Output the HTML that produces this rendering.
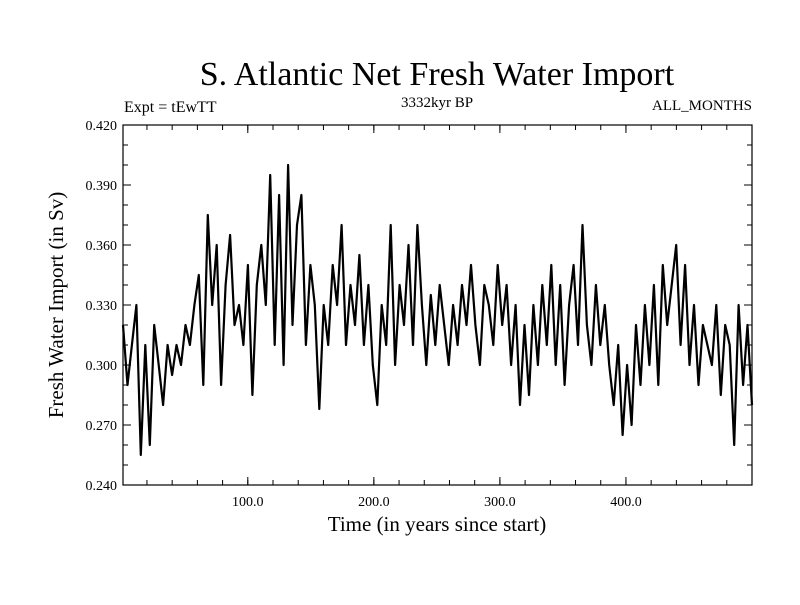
<!DOCTYPE html>
<html><head><meta charset="utf-8"><style>
body{margin:0;background:#fff}
svg text{font-family:"Liberation Serif",serif;fill:#000}
</style></head><body>
<svg width="800" height="600">
<text x="437" y="85" font-size="34" text-anchor="middle">S. Atlantic Net Fresh Water Import</text>
<text x="124" y="112" font-size="16">Expt = tEwTT</text>
<text x="437" y="107" font-size="15" text-anchor="middle">3332kyr BP</text>
<text x="752" y="110" font-size="15" text-anchor="end">ALL_MONTHS</text>
<text x="437" y="531" font-size="21" text-anchor="middle">Time (in years since start)</text>
<text x="63" y="305" font-size="21" text-anchor="middle" transform="rotate(-90 63 305)">Fresh Water Import (in Sv)</text>
<g id="axes"></g>
<path id="series" fill="none" stroke="#000" stroke-width="2.2" stroke-linejoin="round"/>
<rect x="123" y="125" width="629" height="360" fill="none" stroke="#000" stroke-width="1.2"/>
</svg>
<script>
const values=[0.32,0.29,0.31,0.33,0.255,0.31,0.26,0.32,0.30,0.28,0.31,0.295,0.31,
0.30,0.32,0.31,0.33,0.345,0.29,
0.375,0.33,0.36,0.29,0.34,0.365,0.32,
0.33,0.31,0.35,0.285,0.34,0.36,0.33,
0.395,0.31,0.385,0.30,0.40,0.32,0.37,
0.385,0.31,0.35,0.33,0.278,0.33,
0.31,0.35,0.33,0.37,0.31,0.34,
0.32,0.355,0.31,0.34,0.30,0.28,
0.33,0.31,0.37,0.30,0.34,0.32,
0.36,0.31,0.37,0.33,0.30,
0.335,0.31,0.34,0.32,0.30,0.33,0.31,0.34,0.32,0.35,
0.32,0.30,0.34,0.33,0.31,0.35,0.32,0.34,0.30,0.33,
0.28,0.32,0.285,0.33,0.30,
0.34,0.31,0.35,0.30,0.34,0.29,0.33,0.35,0.31,0.37,
0.32,0.30,0.34,0.31,0.33,0.30,0.28,0.31,0.265,0.30,
0.27,0.32,0.29,0.33,0.30,0.34,0.29,0.35,0.32,0.34,
0.36,0.31,0.35,0.30,0.33,0.29,0.32,
0.31,0.30,0.33,0.285,0.32,0.31,0.26,0.33,0.29,0.32,0.28];
const yearStart=1, yearEnd=500;
const yTicks=[0.240,0.270,0.300,0.330,0.360,0.390,0.420];
const xTicks=[100,200,300,400];
const xLabels=["100.0","200.0","300.0","400.0"];
const X0=123,X1=752,Y0=485,Y1=125;
const xs=v=>X0+(v-yearStart)/(yearEnd-yearStart)*(X1-X0);
const ys=v=>Y0-(v-0.24)/(0.42-0.24)*(Y0-Y1);
const NS="http://www.w3.org/2000/svg";
const g=document.getElementById('axes');
function line(x1,y1,x2,y2,name){const l=document.createElementNS(NS,'line');
l.setAttribute('x1',x1);l.setAttribute('y1',y1);l.setAttribute('x2',x2);l.setAttribute('y2',y2);
l.setAttribute('stroke','#000');l.setAttribute('stroke-width','1');


g.appendChild(l);}
function text(x,y,s,anchor,name){const t=document.createElementNS(NS,'text');
t.setAttribute('x',x);t.setAttribute('y',y);t.setAttribute('font-size','14');t.setAttribute('text-anchor',anchor);t.textContent=s;


g.appendChild(t);}
for(let v=0.25;v<0.42;v+=0.01){const y=ys(v);line(X0,y,X0+5,y,'y-minor-tick');line(X1,y,X1-5,y,'y-minor-tick');}
yTicks.forEach(v=>{const y=ys(v);line(X0,y,X0+8,y,'y-major-tick');line(X1,y,X1-8,y,'y-major-tick');
text(X0-6,y+5,v.toFixed(3),'end','y-tick-label');});
for(let v=20;v<500;v+=20){const x=xs(v);line(x,Y0,x,Y0-5,'x-minor-tick');line(x,Y1,x,Y1+5,'x-minor-tick');}
xTicks.forEach((v,i)=>{const x=xs(v);line(x,Y0,x,Y0-8,'x-major-tick');line(x,Y1,x,Y1+8,'x-major-tick');
text(x,506,xLabels[i],'middle','x-tick-label');});
let d='';values.forEach((v,i)=>{const yr=yearStart+i*(yearEnd-yearStart)/(values.length-1);
d+=(i?'L':'M')+xs(yr).toFixed(1)+' '+ys(v).toFixed(1);});
document.getElementById('series').setAttribute('d',d);
</script>
</body></html>
